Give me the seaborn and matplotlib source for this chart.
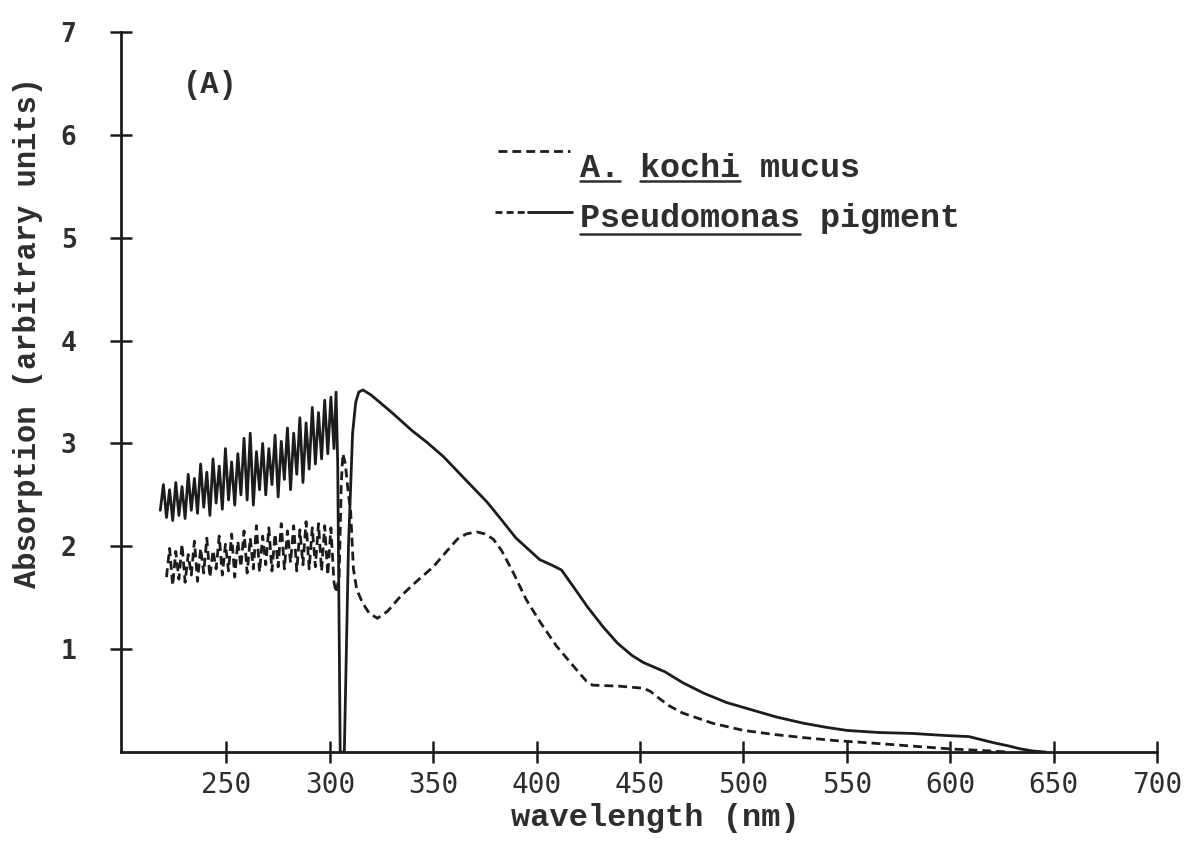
import matplotlib
matplotlib.use("Agg")
import pandas as pd
import matplotlib.pyplot as plt
import seaborn as sns
from matplotlib.lines import Line2D

# noisy scan region below ~302 nm (both traces)
wl_scan = [218.0, 219.5, 221.0, 222.5, 224.0, 225.5, 227.0, 228.5, 230.0, 231.5,
           233.0, 234.5, 236.0, 237.5, 239.0, 240.5, 242.0, 243.5, 245.0, 246.5,
           248.0, 249.5, 251.0, 252.5, 254.0, 255.5, 257.0, 258.5, 260.0, 261.5,
           263.0, 264.5, 266.0, 267.5, 269.0, 270.5, 272.0, 273.5, 275.0, 276.5,
           278.0, 279.5, 281.0, 282.5, 284.0, 285.5, 287.0, 288.5, 290.0, 291.5,
           293.0, 294.5, 296.0, 297.5, 299.0, 300.5, 302.0]
pigment_scan = [2.35, 2.60, 2.28, 2.55, 2.25, 2.62, 2.30, 2.58, 2.27, 2.70,
                2.35, 2.66, 2.32, 2.80, 2.38, 2.72, 2.30, 2.85, 2.42, 2.78,
                2.36, 2.95, 2.45, 2.82, 2.40, 2.90, 2.50, 3.05, 2.45, 3.10,
                2.40, 2.92, 2.55, 3.00, 2.50, 2.95, 2.60, 3.08, 2.48, 3.02,
                2.65, 3.15, 2.55, 3.10, 2.70, 3.25, 2.62, 3.20, 2.75, 3.35,
                2.80, 3.30, 2.85, 3.42, 2.90, 3.45, 2.95]
# mucus trace starts at wl_scan[2]
mucus_scan = [1.70, 1.98, 1.62, 1.95, 1.68, 2.02, 1.65, 1.92, 1.72, 2.05,
              1.66, 1.98, 1.74, 2.08, 1.70, 1.96, 1.78, 2.10, 1.72, 2.02,
              1.76, 2.12, 1.70, 2.05, 1.80, 2.15, 1.74, 2.08, 1.78, 2.20,
              1.75, 2.10, 1.82, 2.18, 1.76, 2.12, 1.80, 2.22, 1.78, 2.15,
              1.84, 2.20, 1.76, 2.16, 1.82, 2.24, 1.78, 2.18, 1.80, 2.22,
              1.76, 2.20, 1.72, 2.18, 1.65]

wl_pigment = [303, 303.8, 305.0, 307.0, 309.0, 311.0, 312.5, 314.0, 316, 320,
              330, 340, 347, 355, 365, 376, 382.5, 390, 401.5, 407,
              412, 418, 424.6, 432, 439, 446, 451.6, 462, 471, 481,
              492, 504, 516, 529, 540, 550, 565, 582, 598, 609,
              615, 621, 628, 634, 640, 646]
pigment = [3.50, 2.80, 0.0, 0.0, 2.00, 3.10, 3.40, 3.50, 3.52, 3.47,
           3.30, 3.12, 3.01, 2.87, 2.66, 2.43, 2.27, 2.08, 1.87, 1.82,
           1.77, 1.60, 1.41, 1.22, 1.06, 0.94, 0.87, 0.78, 0.67, 0.57,
           0.48, 0.41, 0.34, 0.28, 0.24, 0.21, 0.19, 0.18, 0.16, 0.15,
           0.12, 0.09, 0.06, 0.03, 0.01, 0.0]

wl_mucus = [303, 304.5, 305.5, 306.3, 307.5, 309, 310, 311.4, 313, 315.8,
            319, 323, 328, 334, 342, 350, 356, 361.7, 366, 371,
            375, 379, 383, 388.8, 395, 401.8, 409.6, 418, 424, 427,
            440, 451.6, 455, 458, 464, 470.5, 485, 500, 515, 529,
            545, 560, 580, 600, 615, 628]
mucus = [1.55, 1.70, 2.60, 2.90, 2.80, 2.50, 2.36, 1.78, 1.58, 1.45,
         1.35, 1.30, 1.37, 1.51, 1.66, 1.80, 1.94, 2.07, 2.12, 2.14,
         2.12, 2.07, 1.96, 1.74, 1.48, 1.26, 1.03, 0.83, 0.69, 0.65,
         0.64, 0.62, 0.59, 0.54, 0.45, 0.38, 0.28, 0.21, 0.17, 0.14,
         0.11, 0.09, 0.06, 0.03, 0.015, 0.0]

xticks = [250, 300, 350, 400, 450, 500, 550, 600, 650, 700]
yticks = [1, 2, 3, 4, 5, 6, 7]

df_pig = pd.DataFrame({"wavelength": wl_scan + wl_pigment,
                       "absorption": pigment_scan + pigment})
df_muc = pd.DataFrame({"wavelength": wl_scan[2:] + wl_mucus,
                       "absorption": mucus_scan + mucus})

sns.set_style("white")
ink = "#1c1c1c"
txt = "#2e2e2e"
serif_mono = ["Liberation Mono", "DejaVu Sans Mono"]
sans_mono = ["DejaVu Sans Mono"]

W, H = 1199, 846
fig = plt.figure(figsize=(W / 100, H / 100), dpi=100)
ax = fig.add_axes([121 / W, 1 - 752 / H, (1157 - 121) / W, (752 - 32) / H])

sns.lineplot(data=df_pig, x="wavelength", y="absorption", color=ink,
             lw=2.0, estimator=None, sort=False, ax=ax)
sns.lineplot(data=df_muc, x="wavelength", y="absorption", color=ink,
             lw=2.0, estimator=None, sort=False, ax=ax)
ax.lines[-1].set_linestyle((0, (3.2, 1.8)))

ax.set_xlim(199, 700)
ax.set_ylim(0, 7)
ax.set_xticks(xticks)
ax.set_xticklabels([str(t) for t in xticks], family=sans_mono, fontsize=20, color=txt)
ax.set_yticks(yticks)
ax.set_yticklabels([str(t) for t in yticks], family=sans_mono, fontsize=19,
                   fontweight="bold", color=txt)
ax.tick_params(axis="x", bottom=True, direction="inout", length=16, width=1.8,
               color=ink, pad=6)
ax.tick_params(axis="y", left=True, direction="inout", length=16, width=1.8,
               color=ink, pad=24)
sns.despine(ax=ax)
for s in ["left", "bottom"]:
    ax.spines[s].set_linewidth(2.0)
    ax.spines[s].set_color(ink)

ax.set_xlabel("wavelength (nm)", family=serif_mono, fontsize=23, fontweight="bold",
              color=txt, va="center")
ax.xaxis.set_label_coords(0.516, -0.092)
ax.set_ylabel("Absorption (arbitrary units)", family=serif_mono, fontsize=22,
              fontweight="bold", color=txt, va="center")
ax.yaxis.set_label_coords(-0.0898, 0.583)

fig.text(183 / W, 1 - 85 / H, "(A)", family=serif_mono, fontsize=22,
         fontweight="bold", color=txt, va="center", ha="left")


def px(x, y):
    return x / W, 1 - y / H


# legend drawn by hand (underlined species names)
x0, y0 = px(498, 151)
x1, _ = px(570, 151)
fig.add_artist(Line2D([x0, x1], [y0, y0], transform=fig.transFigure, color=ink,
                      lw=2.0, ls=(0, (3.2, 1.8))))
x0, y0 = px(495, 212)
xm, _ = px(528, 212)
x1, _ = px(572, 212)
fig.add_artist(Line2D([x0, xm], [y0, y0], transform=fig.transFigure, color=ink,
                      lw=2.0, ls=(0, (2.5, 1.5))))
fig.add_artist(Line2D([xm, x1], [y0, y0], transform=fig.transFigure, color=ink, lw=2.0))

t1 = fig.text(*px(580, 177), "A. kochi mucus", family=serif_mono, fontsize=24,
              fontweight="bold", color=txt, va="baseline", ha="left")
t2 = fig.text(*px(580, 227), "Pseudomonas pigment", family=serif_mono, fontsize=24,
              fontweight="bold", color=txt, va="baseline", ha="left")

fig.canvas.draw()
rend = fig.canvas.get_renderer()
for t, spans, uy in [(t1, [(0, 2), (3, 8)], 181), (t2, [(0, 11)], 234)]:
    bb = t.get_window_extent(rend)
    cw = bb.width / len(t.get_text())
    for a, b in spans:
        xa = (bb.x0 + a * cw) / W
        xb = (bb.x0 + b * cw) / W
        fig.add_artist(Line2D([xa, xb], [1 - uy / H] * 2, transform=fig.transFigure,
                              color=txt, lw=1.8))

fig.savefig("out.png", dpi=100, facecolor="white")
